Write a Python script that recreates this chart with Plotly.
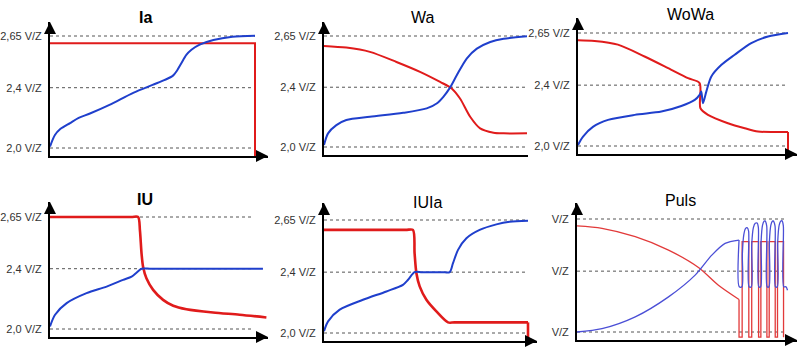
import plotly.graph_objects as go

W, H = 802, 357

# ---------------- data (axis units: x = time 0..100, y = V/Z-scale) ----------------
TICK_VALS = [2.0, 2.35, 2.65]
TICK_TEXT = ["2,0 V/Z", "2,4 V/Z", "2,65 V/Z"]
PULS_TICK_TEXT = ["V/Z", "V/Z", "V/Z"]
TITLES = ["Ia", "Wa", "WoWa", "IU", "IUIa", "Puls"]

# Ia
IA_U_X = [0, 2.4, 5, 9.8, 14, 19.5, 29, 40.6, 50, 56, 60, 62, 64, 66.5, 69, 73, 79.7, 89, 100]
IA_U_Y = [2.008, 2.075, 2.11, 2.145, 2.175, 2.20, 2.25, 2.32, 2.366, 2.395, 2.42, 2.45, 2.49, 2.54, 2.57, 2.60, 2.627, 2.646, 2.652]
IA_I_X = [0, 100, 100]
IA_I_Y = [2.608, 2.608, 1.95]

# Wa
WA_U_X = [0, 2.0, 6.1, 11, 22.6, 39, 50.6, 55.5, 58.8, 62, 65.4, 70.3, 75.3, 81.9, 88.5, 100]
WA_U_Y = [2.012, 2.08, 2.128, 2.158, 2.177, 2.20, 2.226, 2.255, 2.294, 2.346, 2.42, 2.518, 2.576, 2.615, 2.634, 2.648]
WA_I_X = [0, 11, 22.6, 35.7, 47.3, 57.2, 62.9, 67, 72, 76.9, 83.5, 88.5, 100]
WA_I_Y = [2.592, 2.582, 2.557, 2.498, 2.44, 2.381, 2.343, 2.284, 2.177, 2.109, 2.084, 2.08, 2.08]

# WoWa
WOWA_U_X = [0, 2.4, 7.1, 14.3, 27, 39.7, 49.2, 55.6, 57.9, 58.7, 59.5, 61.1, 63.5, 68.3, 74.6, 82.5, 90.5, 100]
WOWA_U_Y = [2.006, 2.054, 2.11, 2.15, 2.179, 2.198, 2.23, 2.265, 2.294, 2.313, 2.246, 2.313, 2.40, 2.467, 2.525, 2.592, 2.63, 2.65]
WOWA_I_X = [0, 7.9, 19, 31.7, 42.9, 52.4, 57.9, 58.3, 61.9, 71.4, 79.4, 85.7, 97, 100]
WOWA_I_Y = [2.608, 2.604, 2.583, 2.515, 2.448, 2.39, 2.362, 2.217, 2.179, 2.131, 2.102, 2.083, 2.081, 2.081]
WOWA_I_END_X = [100, 100]
WOWA_I_END_Y = [2.081, 1.95]

# IU
IU_U_X = [0, 2.5, 8.2, 18, 27.9, 36, 40.2, 42.6, 45.1, 50, 104.9]
IU_U_Y = [2.015, 2.083, 2.15, 2.208, 2.246, 2.285, 2.304, 2.327, 2.35, 2.35, 2.35]
IU_I_X = [0, 40, 43.4, 44.3, 45.1, 45.9, 47.5, 50.8, 55.7, 60.7, 67.2, 80.3, 93.4, 106.6]
IU_I_Y = [2.65, 2.65, 2.65, 2.573, 2.438, 2.358, 2.294, 2.227, 2.169, 2.135, 2.115, 2.096, 2.083, 2.067]

# IUIa
IUIA_U_X = [0, 2, 7.7, 19.1, 30.6, 38.7, 41.2, 44.4, 48, 58, 61.6, 63.2, 65.7, 69.8, 76.3, 84.5, 91, 100]
IUIA_U_Y = [2.01, 2.067, 2.134, 2.191, 2.239, 2.277, 2.306, 2.35, 2.35, 2.35, 2.35, 2.40, 2.478, 2.545, 2.593, 2.625, 2.64, 2.646]
IUIA_I_X = [0, 40, 43.6, 44.4, 45.3, 46.9, 50.2, 55.1, 60.8, 64, 97, 100]
IUIA_I_Y = [2.593, 2.593, 2.593, 2.459, 2.344, 2.268, 2.191, 2.124, 2.061, 2.061, 2.061, 2.061]
IUIA_I_END_X = [100, 100]
IUIA_I_END_Y = [2.061, 1.95]

# Puls: smooth ramp then pulse train
PULS_U_RAMP_X = [0, 12, 28, 44, 56.8, 64.8, 71.2, 77.9]
PULS_U_RAMP_Y = [2.0, 2.019, 2.087, 2.202, 2.327, 2.442, 2.51, 2.529]
PULS_U_PULSE_X = [77.9, 78.0, 79.3, 79.5, 80.2, 81.0, 81.8, 82.5, 82.7,
                  83.8, 84.0, 84.8, 85.7, 86.6, 87.2, 87.4,
                  88.3, 88.5, 89.2, 90.0, 90.4, 91.2, 91.4,
                  92.3, 92.5, 93.2, 94.0, 94.3, 95.2, 95.4,
                  96.3, 96.5, 97.2, 98.0, 98.6, 99.2, 99.4, 100.5, 101.2]
PULS_U_PULSE_Y = [2.529, 2.26, 2.26, 2.45, 2.56, 2.595, 2.60, 2.58, 2.26,
                  2.26, 2.50, 2.60, 2.625, 2.627, 2.60, 2.26,
                  2.26, 2.52, 2.615, 2.638, 2.639, 2.61, 2.26,
                  2.26, 2.52, 2.615, 2.638, 2.639, 2.61, 2.26,
                  2.26, 2.52, 2.615, 2.638, 2.639, 2.61, 2.26, 2.26, 2.24]
PULS_I_RAMP_X = [0, 12, 28, 44, 58.4, 68, 77.9]
PULS_I_RAMP_Y = [2.61, 2.596, 2.548, 2.471, 2.371, 2.269, 2.187]
PULS_I_PULSE_X = [77.9, 77.9,
                  79.4, 79.4, 82.6, 82.6, 84.0, 84.0, 87.3, 87.3,
                  88.4, 88.4, 91.3, 91.3, 92.4, 92.4, 95.3, 95.3,
                  96.4, 96.4, 99.3, 99.3]
PULS_I_PULSE_Y = [2.187, 1.97,
                  1.97, 2.52, 2.52, 1.97, 1.97, 2.52, 2.52, 1.97,
                  1.97, 2.52, 2.52, 1.97, 1.97, 2.52, 2.52, 1.97,
                  1.97, 2.52, 2.52, 1.97]

BLUE = "#1f3fcc"
RED = "#e01b1b"
PBLUE = "#4b4fd6"
PRED = "#e23a3a"

# (panel, x, y, colour, width, shape)
TRACES = [
    (1, IA_I_X, IA_I_Y, RED, 2, "linear"),
    (1, IA_U_X, IA_U_Y, BLUE, 2, "spline"),
    (2, WA_I_X, WA_I_Y, RED, 2, "spline"),
    (2, WA_U_X, WA_U_Y, BLUE, 2, "spline"),
    (3, WOWA_I_X, WOWA_I_Y, RED, 2, "spline"),
    (3, WOWA_I_END_X, WOWA_I_END_Y, RED, 2, "linear"),
    (3, WOWA_U_X, WOWA_U_Y, BLUE, 2, "spline"),
    (4, IU_I_X, IU_I_Y, RED, 2.6, "spline"),
    (4, IU_U_X, IU_U_Y, BLUE, 2, "spline"),
    (5, IUIA_I_X, IUIA_I_Y, RED, 2.6, "spline"),
    (5, IUIA_I_END_X, IUIA_I_END_Y, RED, 2.6, "linear"),
    (5, IUIA_U_X, IUIA_U_Y, BLUE, 2, "spline"),
    (6, PULS_I_RAMP_X, PULS_I_RAMP_Y, PRED, 1.3, "spline"),
    (6, PULS_I_PULSE_X, PULS_I_PULSE_Y, PRED, 1.3, "linear"),
    (6, PULS_U_RAMP_X, PULS_U_RAMP_Y, PBLUE, 1.3, "spline"),
    (6, PULS_U_PULSE_X, PULS_U_PULSE_Y, PBLUE, 1.3, "spline"),
]

# ---------------- layout geometry (pixels) ----------------
PANELS = [
    dict(x0=50, xg=255, xa=268, arrow=True, y20=148, y265=36, xax=156, ytop=22, tx=145, ty=17, bold=True),
    dict(x0=324, xg=527, xa=528, arrow=False, y20=147, y265=36, xax=155, ytop=22, tx=423, ty=17, bold=False),
    dict(x0=578, xg=788, xa=797, arrow=True, y20=146, y265=33, xax=154, ytop=18, tx=690, ty=15, bold=False),
    dict(x0=50, xg=253, xa=268, arrow=True, y20=329, y265=217, xax=337, ytop=202, tx=145, ty=199, bold=True),
    dict(x0=324, xg=528, xa=537, arrow=True, y20=333, y265=220, xax=341, ytop=203, tx=428, ty=202, bold=False),
    dict(x0=577, xg=785, xa=797, arrow=True, y20=332, y265=219, xax=340, ytop=203, tx=680, ty=200, bold=False),
]

FONT = "Liberation Sans, Arial, sans-serif"

fig = go.Figure()
layout = dict(
    width=W, height=H, autosize=False,
    margin=dict(l=0, r=0, t=0, b=0),
    paper_bgcolor="white", plot_bgcolor="rgba(0,0,0,0)",
    showlegend=False,
    font=dict(family=FONT, color="#333"),
)
shapes = []
annotations = []


def names(n):
    return ("x" if n == 1 else f"x{n}", "y" if n == 1 else f"y{n}")


for i, p in enumerate(PANELS):
    n = i + 1
    xn, yn = names(n)
    xk = "xaxis" if n == 1 else f"xaxis{n}"
    yk = "yaxis" if n == 1 else f"yaxis{n}"

    xmax = 100.0 * (p["xa"] - p["x0"]) / (p["xg"] - p["x0"])
    ppv = (p["y20"] - p["y265"]) / 0.65
    ylo = 2.0 - (p["xax"] - p["y20"]) / ppv
    yhi = 2.65 + (p["y265"] - p["ytop"]) / ppv

    layout[xk] = dict(domain=[p["x0"] / W, p["xa"] / W], range=[0, xmax], anchor=yn,
                      showgrid=False, zeroline=False, showticklabels=False, ticks="",
                      showline=True, linecolor="black", linewidth=2, fixedrange=True)
    layout[yk] = dict(domain=[1 - p["xax"] / H, 1 - p["ytop"] / H], range=[ylo, yhi], anchor=xn,
                      showgrid=False, zeroline=False, ticks="",
                      tickvals=TICK_VALS, ticktext=PULS_TICK_TEXT if n == 6 else TICK_TEXT,
                      tickfont=dict(size=11, color="#333", family=FONT), ticklabelstandoff=4,
                      showline=True, linecolor="black", linewidth=2, fixedrange=True)

    for v in TICK_VALS:
        shapes.append(dict(type="line", xref=xn, yref=yn, x0=0, x1=100, y0=v, y1=v,
                           line=dict(color="#555", width=1, dash="3px,3px"), layer="below"))

    annotations.append(dict(x=0, y=yhi, xref=xn, yref=yn, ax=0, ay=10, text="",
                            showarrow=True, arrowhead=2, arrowsize=1.2, arrowwidth=2, arrowcolor="black"))
    if p["arrow"]:
        annotations.append(dict(x=xmax, y=ylo, xref=xn, yref=yn, ax=-10, ay=0, text="",
                                showarrow=True, arrowhead=2, arrowsize=1.2, arrowwidth=2, arrowcolor="black"))

    t = TITLES[i]
    annotations.append(dict(x=p["tx"] / W, y=1 - p["ty"] / H, xref="paper", yref="paper",
                            text=f"<b>{t}</b>" if p["bold"] else t, showarrow=False,
                            xanchor="center", yanchor="middle",
                            font=dict(size=16, color="black", family=FONT)))

for n, tx, ty, col, w, shp in TRACES:
    xn, yn = names(n)
    fig.add_trace(go.Scatter(x=tx, y=ty, xaxis=xn, yaxis=yn, mode="lines",
                             line=dict(color=col, width=w, shape=shp, smoothing=0.8),
                             hoverinfo="skip"))

layout["shapes"] = shapes
layout["annotations"] = annotations
fig.update_layout(**layout)
fig.write_html("out.html", config={"displayModeBar": False},
               post_script="document.body.style.margin='0';document.body.style.overflow='hidden';")
